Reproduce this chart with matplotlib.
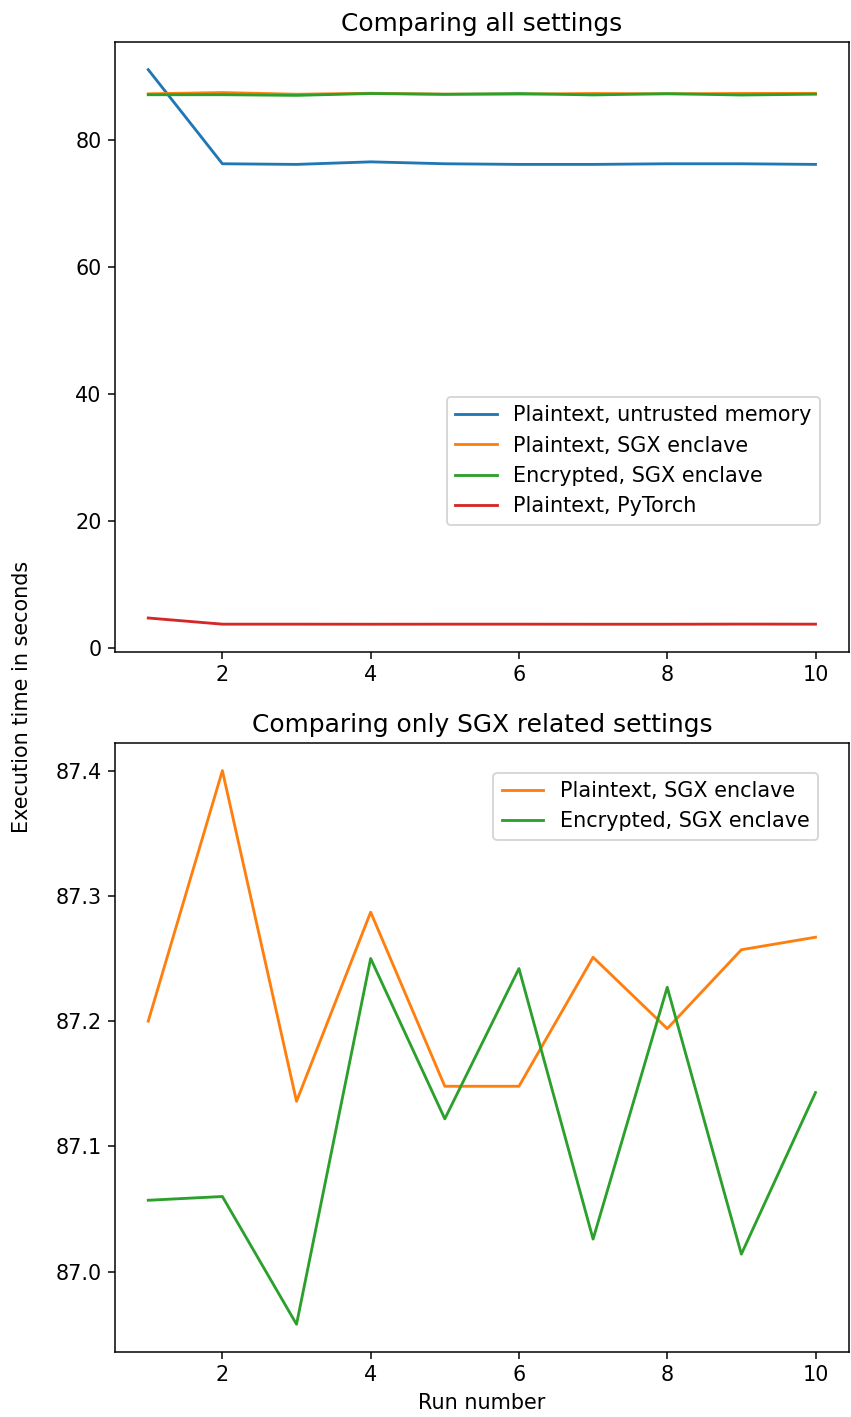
import numpy as np
import matplotlib
matplotlib.use("Agg")
import matplotlib.pyplot as plt

# run numbers and measured execution times (seconds)
runs = np.arange(1, 11)
plain_untrusted = [91.0, 76.2, 76.1, 76.5, 76.2, 76.1, 76.1, 76.2, 76.2, 76.1]
plain_sgx = [87.200, 87.400, 87.136, 87.287, 87.148, 87.148, 87.251, 87.194, 87.257, 87.267]
encrypted_sgx = [87.057, 87.060, 86.958, 87.250, 87.122, 87.242, 87.026, 87.227, 87.014, 87.143]
plain_pytorch = [4.75, 3.78, 3.78, 3.77, 3.78, 3.78, 3.77, 3.77, 3.79, 3.78]

labels = ["Plaintext, untrusted memory", "Plaintext, SGX enclave",
          "Encrypted, SGX enclave", "Plaintext, PyTorch"]

plt.rcParams["font.size"] = 11
plt.rcParams["axes.titlesize"] = 13.2

dpi = 136
fig = plt.figure(figsize=(851 / dpi, 1417 / dpi), dpi=dpi)

# top: all four settings
ax1 = fig.add_axes([0.135, 0.5399, 0.8625, 0.4305])
ax1.plot(runs, plain_untrusted, color="C0", label=labels[0])
ax1.plot(runs, plain_sgx, color="C1", label=labels[1])
ax1.plot(runs, encrypted_sgx, color="C2", label=labels[2])
ax1.plot(runs, plain_pytorch, color="C3", label=labels[3])
ax1.set_title("Comparing all settings")
ax1.set_xticks([2, 4, 6, 8, 10])
ax1.legend(loc="upper right", bbox_to_anchor=(0.9605, 0.418), borderaxespad=0)

# bottom: only the SGX runs
ax2 = fig.add_axes([0.135, 0.0459, 0.8625, 0.4298])
ax2.plot(runs, plain_sgx, color="C1", label=labels[1])
ax2.plot(runs, encrypted_sgx, color="C2", label=labels[2])
ax2.set_title("Comparing only SGX related settings")
ax2.set_xticks([2, 4, 6, 8, 10])
ax2.set_xlabel("Run number")
ax2.legend(loc="upper right", bbox_to_anchor=(0.958, 0.951), borderaxespad=0)

fig.text(0.026, 0.508, "Execution time in seconds", rotation=90,
         ha="center", va="center")

fig.savefig("out.png", dpi=dpi)
